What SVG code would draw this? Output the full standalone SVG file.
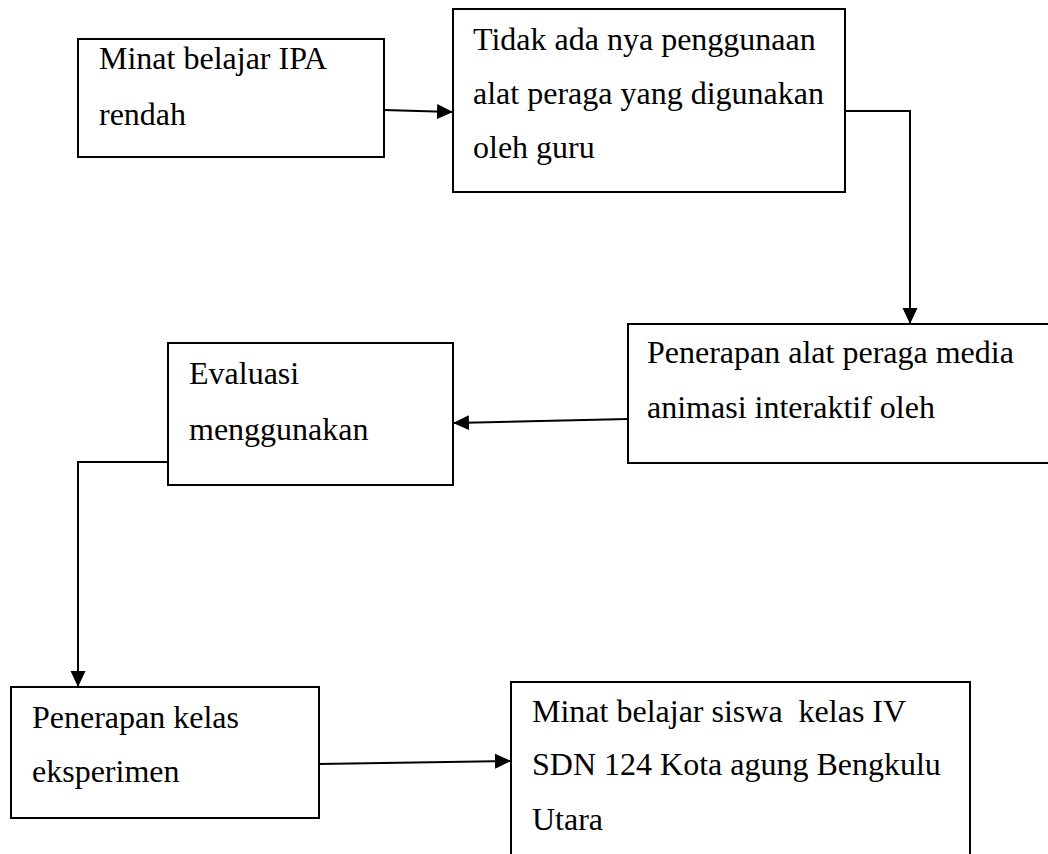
<svg xmlns="http://www.w3.org/2000/svg" width="1048" height="854" viewBox="0 0 1048 854">
<style>
.box{fill:#fff;stroke:#000;stroke-width:2}
.t{font-family:"Liberation Serif","Times New Roman",serif;font-size:32px;fill:#000;white-space:pre}
.c{fill:none;stroke:#000;stroke-width:2}
</style>
<defs>
<marker id="ah" viewBox="0 0 16 16" refX="15" refY="8" markerWidth="16" markerHeight="16" markerUnits="userSpaceOnUse" orient="auto">
<path d="M0,0.5 L16,8 L0,15.5 z" fill="#000"/>
</marker>
</defs>
<rect width="1048" height="854" fill="#fff"/>
<g id="n1">
<rect class="box" x="78" y="39" width="306" height="118"/>
<text class="t" x="99" y="69">Minat belajar IPA</text>
<text class="t" x="99" y="125">rendah</text>
</g>
<g id="n2">
<rect class="box" x="453" y="9" width="392" height="183"/>
<text class="t" x="473" y="50">Tidak ada nya penggunaan</text>
<text class="t" x="473" y="104">alat peraga yang digunakan</text>
<text class="t" x="473" y="158">oleh guru</text>
</g>
<g id="n3">
<rect class="box" x="628" y="324" width="440" height="139"/>
<text class="t" x="647" y="363">Penerapan alat peraga media</text>
<text class="t" x="647" y="418">animasi interaktif oleh</text>
</g>
<g id="n4">
<rect class="box" x="168" y="343" width="285" height="142"/>
<text class="t" x="189" y="384">Evaluasi</text>
<text class="t" x="189" y="440">menggunakan</text>
</g>
<g id="n5">
<rect class="box" x="11" y="687" width="308" height="131"/>
<text class="t" x="32" y="728">Penerapan kelas</text>
<text class="t" x="32" y="782">eksperimen</text>
</g>
<g id="n6">
<rect class="box" x="511" y="682" width="459" height="200"/>
<text class="t" x="532" y="722">Minat belajar siswa  kelas IV</text>
<text class="t" x="532" y="775">SDN 124 Kota agung Bengkulu</text>
<text class="t" x="532" y="830">Utara</text>
</g>
<g id="connectors">
<path class="c" d="M384,110 L452,112" marker-end="url(#ah)"/>
<path class="c" d="M845,111 L910,111 L910,323" marker-end="url(#ah)"/>
<path class="c" d="M628,419 L454,423" marker-end="url(#ah)"/>
<path class="c" d="M168,462 L78,462 L78,686" marker-end="url(#ah)"/>
<path class="c" d="M319,764 L510,761" marker-end="url(#ah)"/>
</g>
</svg>
